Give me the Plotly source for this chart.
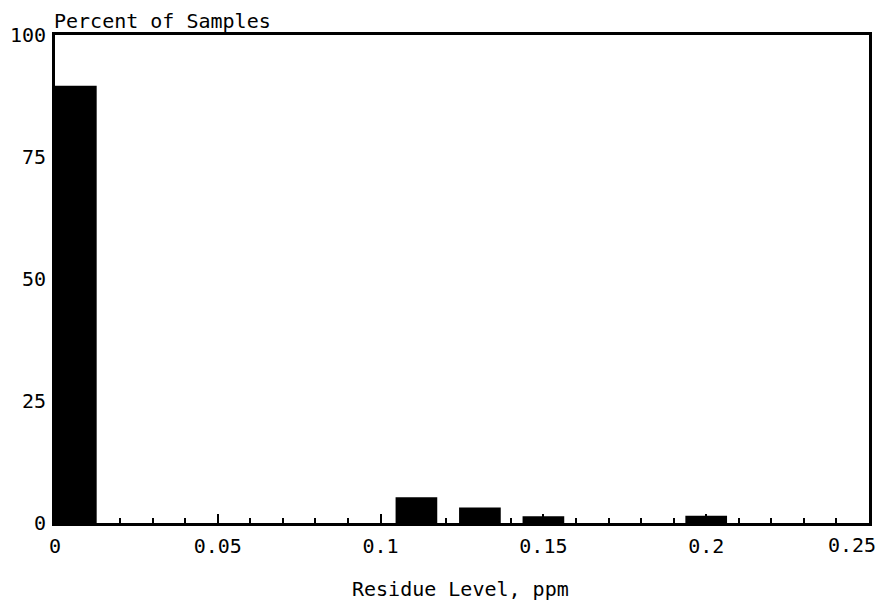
import plotly.graph_objects as go

residue_ppm = [0.0064, 0.111, 0.1305, 0.150, 0.200]
percent_samples = [89.6, 5.3, 3.2, 1.4, 1.5]
bar_width = 0.0128
x_tickvals = [0, 0.05, 0.1, 0.15, 0.2, 0.25]
x_ticktext = ["0", "0.05", "0.1", "0.15", "0.2", ""]
last_x_label = "0.25"
y_tickvals = [0, 25, 50, 75, 100]

font_family = "DejaVu Sans Mono"

fig = go.Figure(go.Bar(
    x=residue_ppm, y=percent_samples, width=bar_width,
    marker=dict(color="black", line=dict(width=0)),
))

fig.update_layout(
    width=878, height=601,
    margin=dict(l=55, r=9, t=35, b=78),
    plot_bgcolor="white", paper_bgcolor="white",
    showlegend=False,
    font=dict(family=font_family, size=20, color="black"),
    xaxis=dict(
        range=[0, 0.25], tickvals=x_tickvals, ticktext=x_ticktext,
        ticks="inside", ticklen=9, tickwidth=1.5, automargin=False,
        tickcolor="black", showline=True, linewidth=3, linecolor="black", mirror=True,
        showgrid=False, zeroline=False,
        minor=dict(dtick=0.01, ticks="inside", ticklen=5, tickwidth=1.5, tickcolor="black", showgrid=False),
        tickfont=dict(size=20), ticklabelstandoff=3,
    ),
    yaxis=dict(
        range=[0, 100], tickvals=y_tickvals, ticks="", showline=True, linewidth=3,
        linecolor="black", mirror=True, showgrid=False, zeroline=False, automargin=False,
        tickfont=dict(size=20), ticklabelstandoff=2,
    ),
    annotations=[
        dict(
            text="Percent of Samples", xref="paper", yref="paper", x=-0.004, y=1.0,
            xanchor="left", yanchor="bottom", showarrow=False, font=dict(size=20), yshift=0,
        ),
        dict(
            text=last_x_label, xref="x", yref="paper", x=x_tickvals[-1], y=0,
            xanchor="right", yanchor="top", showarrow=False, font=dict(size=20),
            xshift=9, yshift=-8,
        ),
        dict(
            text="Residue Level, ppm", xref="paper", yref="paper", x=0.5, y=0,
            xanchor="center", yanchor="top", showarrow=False, font=dict(size=20),
            xshift=-2, yshift=-52,
        ),
    ],
)

fig.write_html("out.html")
